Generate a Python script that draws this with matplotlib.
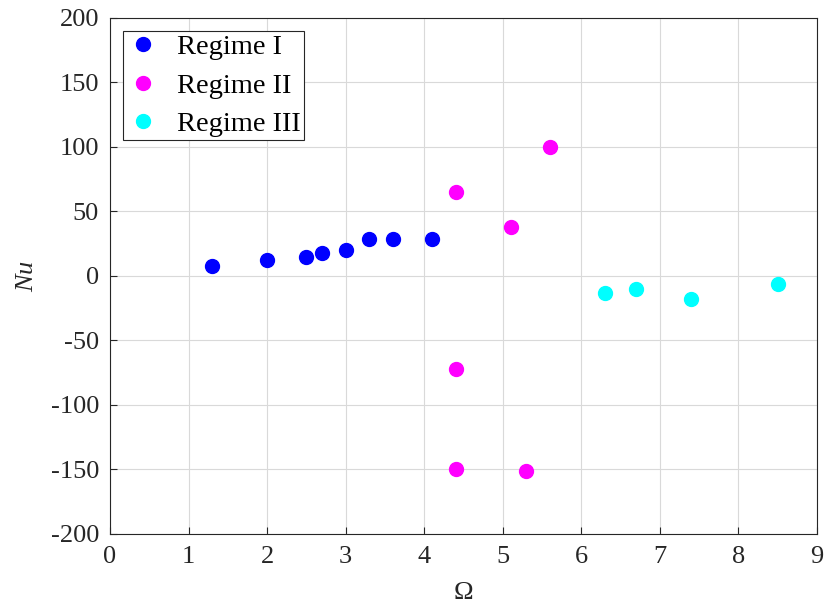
import matplotlib.pyplot as plt

plt.rcParams['font.family'] = ['Liberation Serif', 'DejaVu Serif']
plt.rcParams['mathtext.fontset'] = 'custom'
plt.rcParams['mathtext.it'] = 'Liberation Serif:italic'
plt.rcParams['mathtext.rm'] = 'Liberation Serif'
plt.rcParams['axes.unicode_minus'] = False

omega_1 = [1.3, 2.0, 2.5, 2.7, 3.0, 3.3, 3.6, 4.1]
nu_1 = [8, 12, 15, 18, 20, 29, 29, 29]

omega_2 = [4.4, 5.1, 5.6, 4.4, 4.4, 5.3]
nu_2 = [65, 38, 100, -72, -150, -151]

omega_3 = [6.3, 6.7, 7.4, 8.5]
nu_3 = [-13, -10, -18, -6]

fig = plt.figure(figsize=(8.24, 6.10), dpi=100)
ax = fig.add_axes([0.1335, 0.1246, 0.858, 0.846])

ax.plot(omega_1, nu_1, 'o', color='#0000ff', markersize=10, label='Regime I')
ax.plot(omega_2, nu_2, 'o', color='#ff00ff', markersize=10, label='Regime II')
ax.plot(omega_3, nu_3, 'o', color='#00ffff', markersize=10, label='Regime III')

ax.set_xlim(0, 9)
ax.set_ylim(-200, 200)
ax.set_xticks(range(0, 10))
ax.set_yticks(range(-200, 201, 50))
ax.grid(True, color='#d9d9d9', linewidth=0.8)
ax.set_axisbelow(True)
ax.tick_params(direction='in', labelsize=19, length=5, color='#262626', labelcolor='#262626')
ax.tick_params(axis='y', pad=8)
ax.tick_params(axis='x', pad=9)
for s in ax.spines.values():
    s.set_color('#262626')
    s.set_linewidth(0.8)

ax.set_xlabel(r'$\Omega$', fontsize=19, color='#262626', labelpad=10)
ax.set_ylabel(r'$Nu$', fontsize=19, color='#262626', labelpad=9)

leg = ax.legend(loc='upper left', fontsize=20.5, fancybox=False, edgecolor='#262626',
                framealpha=1, borderpad=0.1, handlelength=1.2, handletextpad=0.6,
                labelspacing=0.44, borderaxespad=0.47)
leg.get_frame().set_linewidth(0.8)

fig.savefig('out.png', dpi=100)
